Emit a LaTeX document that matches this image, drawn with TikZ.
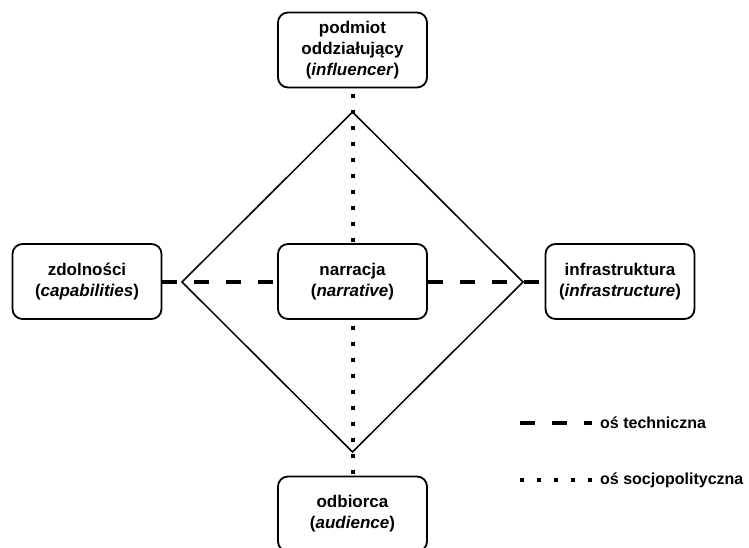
\documentclass[tikz,border=0pt]{standalone}
\usepackage{fontspec}
\setmainfont{Liberation Sans}
\begin{document}
\begin{tikzpicture}[x=1pt,y=-1pt,
  box/.style={draw=black,line width=1.8pt,rounded corners=10pt,minimum width=149pt,minimum height=75pt,align=center,inner sep=0pt,font=\fontsize{17}{21}\selectfont\bfseries},
  techline/.style={line width=4pt,dash pattern=on 15pt off 17pt},
  socline/.style={line width=4pt,dash pattern=on 4pt off 12pt},
  legtext/.style={anchor=west,inner sep=0pt,font=\fontsize{16}{19}\selectfont\bfseries},
  diam/.style={line width=1.5pt,line join=miter}]
\useasboundingbox (0,0) rectangle (749,548);
\node[box] (top) at (352.5,50) {podmiot\\oddziałujący\\(\textit{influencer})};
\node[box] (left) at (87,281.5) {zdolności\\(\textit{capabilities})};
\node[box] (ctr) at (352.5,281.5) {narracja\\(\textit{narrative})};
\node[box] (right) at (620,281.5) {infrastruktura\\(\textit{infrastructure})};
\node[box] (bot) at (352.5,514) {odbiorca\\(\textit{audience})};
\coordinate (T) at (352.5,112);
\coordinate (B) at (352.5,452);
\coordinate (L) at (182,282);
\coordinate (R) at (523,282);
\draw[diam] (T) -- (R) -- (B) -- (L) -- cycle;
\draw[techline] (left.east) -- (ctr.west);
\draw[techline] (ctr.east) -- (right.west);
\draw[socline,dash phase=10pt] (top.south) -- (ctr.north);
\draw[socline,dash phase=10pt] (ctr.south) -- (bot.north);
\coordinate (l1a) at (520,423);
\coordinate (l1b) at (592,423);
\coordinate (l2a) at (520,480);
\coordinate (l2b) at (592,480);
\draw[line width=4pt,dash pattern=on 15pt off 17pt] (l1a) -- (l1b);
\draw[line width=4pt,dash pattern=on 4pt off 13pt] (l2a) -- (l2b);
\node[legtext] (lt1) at (600,423) {oś techniczna};
\node[legtext] (lt2) at (600,480) {oś socjopolityczna};
\end{tikzpicture}
\end{document}
